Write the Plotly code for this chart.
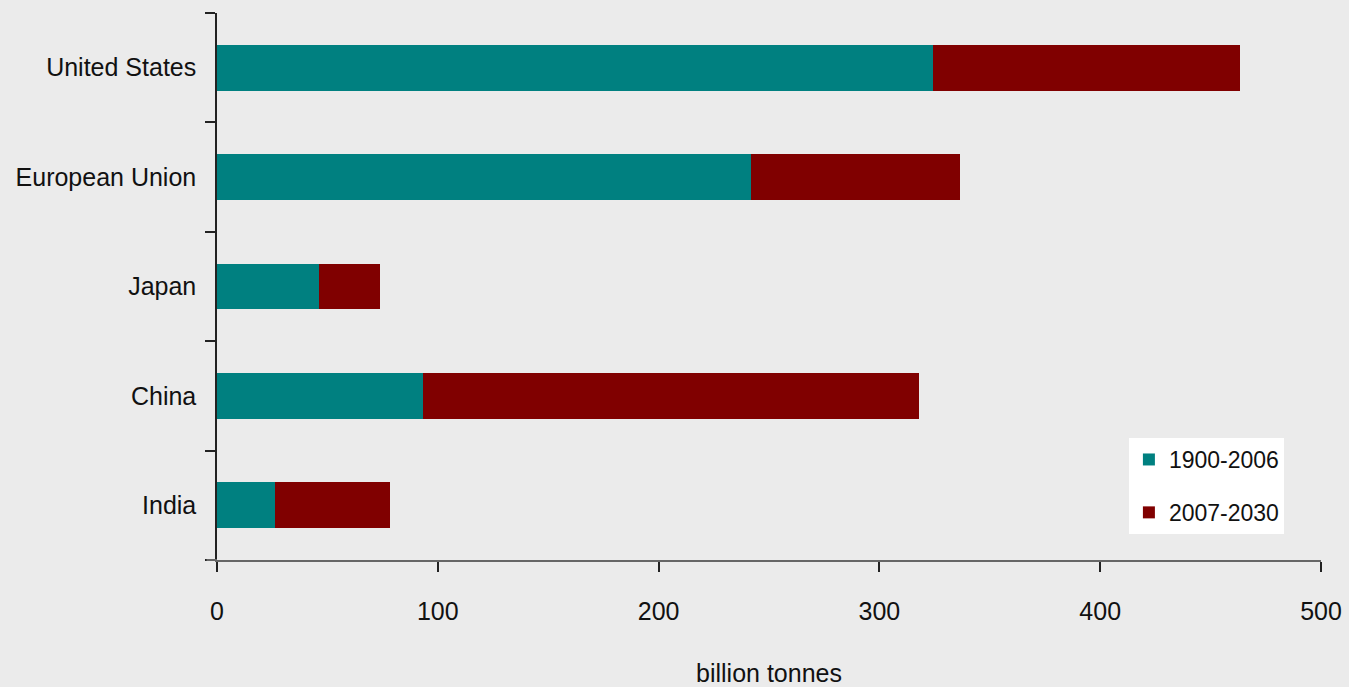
import plotly.graph_objects as go

countries = ["India", "China", "Japan", "European Union", "United States"]
period1_label = "1900-2006"
period2_label = "2007-2030"
values_1900_2006 = [26.3, 93.3, 46.2, 241.8, 324.3]
values_2007_2030 = [52.1, 224.6, 27.6, 94.7, 139.0]
x_ticks = [0, 100, 200, 300, 400, 500]

FONT = "Liberation Sans Narrow, Arial Narrow, Liberation Sans, sans-serif"

fig = go.Figure()
fig.add_trace(go.Bar(y=countries, x=values_1900_2006, orientation="h",
                     name=period1_label, marker_color="#008080",
                     marker_line_width=0, legendgroup="a"))
fig.add_trace(go.Bar(y=countries, x=values_2007_2030, orientation="h",
                     name=period2_label, marker_color="#800000",
                     marker_line_width=0, legendgroup="b"))

fig.update_layout(
    barmode="stack",
    bargap=0.58,
    width=1349, height=687,
    margin=dict(l=217, r=28, t=13, b=127),
    paper_bgcolor="#ebebeb",
    plot_bgcolor="#ebebeb",
    font=dict(family=FONT, size=25, color="#111111"),
    legend=dict(x=0.826, y=0.223, xanchor="left", yanchor="top",
                bgcolor="white", borderwidth=0,
                font=dict(size=23, family=FONT),
                traceorder="grouped", tracegroupgap=20,
                itemwidth=30),
    xaxis=dict(range=[0, 500], tickvals=x_ticks, showgrid=False, zeroline=False,
               showline=True, linecolor="#666666", linewidth=2,
               ticks="outside", ticklen=10, tickcolor="#222222", tickwidth=1.5,
               ticklabelstandoff=18, automargin=False,
               title=dict(text="billion tonnes", standoff=40, font=dict(size=25))),
    yaxis=dict(showgrid=False, zeroline=False, showline=True,
               linecolor="#222222", linewidth=1.5, automargin=False,
               ticks="outside", ticklen=10, tickcolor="#222222", tickwidth=1.5,
               tickson="boundaries", ticklabelstandoff=14),
    shapes=[dict(type="line", xref="paper", yref="paper", x0=-0.0095, x1=0,
                 y0=0, y1=0, line=dict(color="#666666", width=2))],
)

fig.write_html("out.html")
